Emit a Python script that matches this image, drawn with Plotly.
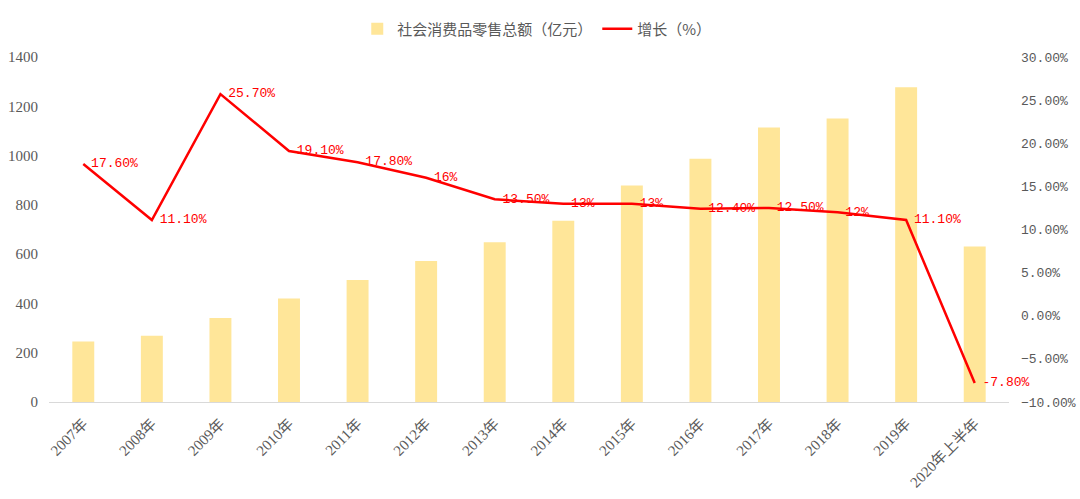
import plotly.graph_objects as go

categories = ["2007年", "2008年", "2009年", "2010年", "2011年", "2012年", "2013年",
              "2014年", "2015年", "2016年", "2017年", "2018年", "2019年", "2020年上半年"]
sales = [246, 269, 341, 420, 495, 572, 648, 736, 879, 987, 1114, 1150, 1277, 631]
growth = [17.6, 11.1, 25.7, 19.1, 17.8, 16.0, 13.5, 13.0, 13.0, 12.4, 12.5, 12.0, 11.1, -7.8]
growth_labels = ["17.60%", "11.10%", "25.70%", "19.10%", "17.80%", "16%", "13.50%",
                 "13%", "13%", "12.40%", "12.50%", "12%", "11.10%", "-7.80%"]

serif = "Liberation Serif, Noto Sans CJK SC, serif"
mono = "Liberation Mono, Noto Sans CJK SC, monospace"
gray = "#595959"

fig = go.Figure()
fig.add_trace(go.Bar(
    x=categories, y=sales, name="社会消费品零售总额（亿元）",
    marker=dict(color="#FFE699", line=dict(width=0)),
    width=0.32, yaxis="y"))
fig.add_trace(go.Scatter(
    x=categories, y=[g / 100 for g in growth], name="增长（%）",
    mode="lines+text", text=[" " + t for t in growth_labels], textposition="middle right",
    textfont=dict(color="#FF0000", size=13, family=mono),
    line=dict(color="#FF0000", width=2.5), yaxis="y2", cliponaxis=False))

fig.update_layout(
    width=1080, height=499,
    margin=dict(l=49, r=71, t=57, b=97, autoexpand=False),
    plot_bgcolor="white", paper_bgcolor="white",
    showlegend=True,
    legend=dict(orientation="h", x=0.497, xanchor="center", y=0.975, yanchor="top",
                yref="container", xref="container",
                font=dict(size=15, color=gray, family="Noto Sans CJK SC"),
                itemwidth=30, traceorder="normal"),
    xaxis=dict(tickangle=-45, tickfont=dict(size=15, color=gray, family=serif),
               showline=True, linecolor="#D9D9D9", linewidth=1, showgrid=False,
               ticks="outside", ticklen=6, tickcolor="rgba(0,0,0,0)", range=[-0.5, 13.5]),
    yaxis=dict(range=[0, 1400], dtick=200, showgrid=False, zeroline=False,
               tickfont=dict(size=15, color=gray, family=serif), ticks="",
               ticklabelstandoff=10),
    yaxis2=dict(range=[-0.10, 0.30], dtick=0.05, tickformat=".2%", overlaying="y",
                side="right", showgrid=False, zeroline=False, ticks="",
                tickfont=dict(size=13, color=gray, family=mono),
                ticklabelstandoff=11),
)
fig.write_html("out.html")
